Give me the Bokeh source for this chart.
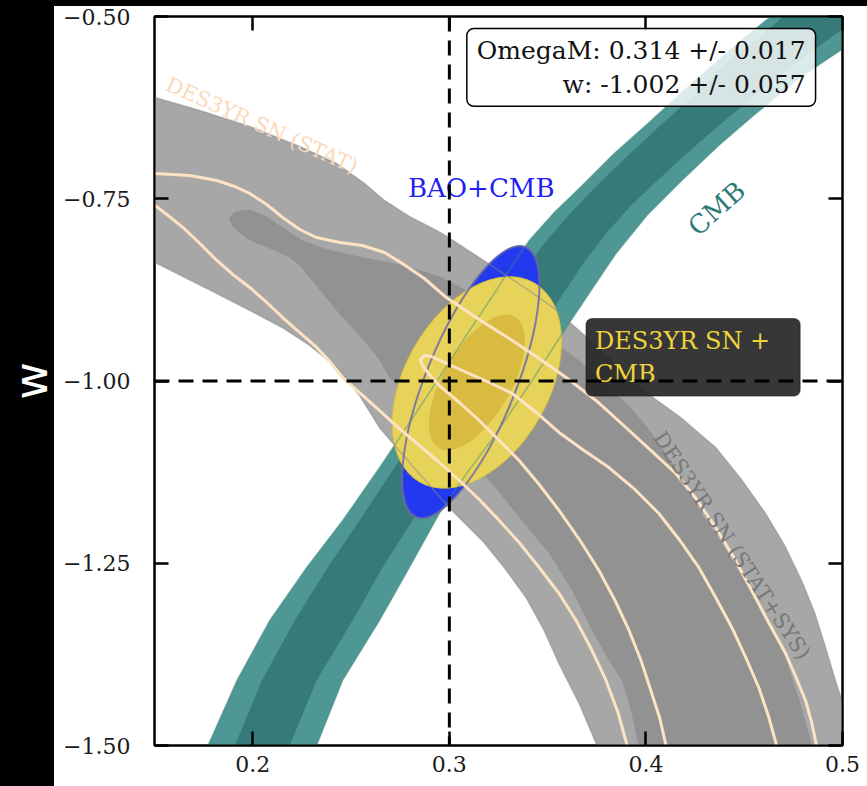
from bokeh.plotting import figure
from bokeh.models import FixedTicker, LinearAxis, Span, Label
from bokeh.embed import file_html
from bokeh.resources import INLINE

# ---------------- axes ----------------
X_TICKS = [0.2, 0.3, 0.4, 0.5]
X_TICK_LABELS = ["0.2", "0.3", "0.4", "0.5"]
Y_TICKS = [-1.5, -1.25, -1.0, -0.75, -0.5]
Y_TICK_LABELS = ["−1.50", "−1.25", "−1.00", "−0.75", "−0.50"]
Y_TITLE = "w"

# fiducial cosmology (dashed guides)
OM_FID = 0.3
W_FID = -1.0

# combined DES3YR SN + CMB result: [mean, sigma]
OM_FIT = [0.314, 0.017]
W_FIT = [-1.002, 0.057]

# ---------------- CMB band (95% outer, 68% inner) ----------------
cmb95_lo_om = [0.172, 0.1772, 0.1919, 0.2086, 0.2274, 0.2457, 0.2645, 0.2761, 0.2939, 0.3076, 0.3239, 0.3315, 0.3406,
               0.3533, 0.3675, 0.3838, 0.4015, 0.4193, 0.4355, 0.4497, 0.4609, 0.475]
cmb95_lo_w = [-1.53, -1.5, -1.4108, -1.3285, -1.2558, -1.1914, -1.1187, -1.072, -0.9993, -0.9417, -0.8759, -0.8429,
              -0.8073, -0.7689, -0.7318, -0.6879, -0.6454, -0.6015, -0.5631, -0.5302, -0.5055, -0.48]
cmb95_hi_om = [0.2275, 0.2325, 0.2457, 0.2645, 0.2797, 0.2949, 0.3091, 0.3239, 0.3421, 0.3558, 0.3721, 0.3848, 0.4005,
               0.4183, 0.4371, 0.4548, 0.4777, 0.499, 0.5081]
cmb95_hi_w = [-1.53, -1.5, -1.4108, -1.3285, -1.2558, -1.1818, -1.1255, -1.072, -0.9993, -0.9417, -0.8759, -0.8251,
              -0.773, -0.725, -0.677, -0.6358, -0.585, -0.5466, -0.5261]

cmb68_lo_om = [0.1865, 0.1909, 0.2046, 0.2213, 0.2381, 0.2543, 0.2721, 0.2838, 0.3010, 0.3152, 0.3315, 0.3396, 0.3482,
               0.3619, 0.3761, 0.3924, 0.4102, 0.4269, 0.4421, 0.4558, 0.4675, 0.4777]
cmb68_lo_w = [-1.53, -1.5, -1.4108, -1.3285, -1.2558, -1.1914, -1.1187, -1.072, -0.9993, -0.9417, -0.8759, -0.8429,
              -0.8114, -0.7689, -0.7291, -0.6866, -0.6427, -0.6015, -0.5604, -0.5329, -0.5055, -0.4808]
cmb68_hi_om = [0.2145, 0.2188, 0.2325, 0.2508, 0.266, 0.2812, 0.2985, 0.3112, 0.3294, 0.3431, 0.3589, 0.3685, 0.3797,
               0.3924, 0.4041, 0.4208, 0.4371, 0.4548, 0.4726, 0.499, 0.5081]
cmb68_hi_w = [-1.53, -1.5, -1.4108, -1.3285, -1.2558, -1.1914, -1.1187, -1.072, -0.9993, -0.9417, -0.8759, -0.8374,
              -0.7977, -0.7593, -0.7291, -0.6879, -0.6495, -0.6097, -0.5713, -0.5192, -0.4986]

# ---------------- DES3YR SN (STAT+SYS) band ----------------
sys95_hi_om = [0.1452, 0.1503, 0.1731, 0.1985, 0.2239, 0.2426, 0.2569, 0.267, 0.2797, 0.2964, 0.3152, 0.3406, 0.3533,
               0.366, 0.3838, 0.4015, 0.4183, 0.4355, 0.4482, 0.4609, 0.4706, 0.4792, 0.4858, 0.4914, 0.4964, 0.5005,
               0.5056, 0.512]
sys95_hi_w = [-0.6015, -0.6111, -0.6289, -0.6509, -0.6783, -0.7016, -0.7291, -0.7524, -0.7743, -0.7977, -0.8306,
              -0.8759, -0.9005, -0.9307, -0.9746, -1.0185, -1.0514, -1.0912, -1.1337, -1.1818, -1.2257, -1.2737,
              -1.3176, -1.3656, -1.4108, -1.4451, -1.4931, -1.53]
sys95_lo_om = [0.1452, 0.1503, 0.1655, 0.1817, 0.1985, 0.2152, 0.2289, 0.2426, 0.2543, 0.2645, 0.2797, 0.30, 0.3168,
               0.3279, 0.339, 0.3482, 0.3558, 0.366, 0.3746, 0.3787]
sys95_lo_w = [-0.8278, -0.8374, -0.858, -0.88, -0.9033, -0.927, -0.9513, -0.981, -1.0199, -1.064, -1.1118, -1.174,
              -1.219, -1.2558, -1.297, -1.3422, -1.388, -1.4424, -1.497, -1.5274]

sys68_hi_om = [0.1878, 0.1909, 0.1985, 0.2071, 0.2152, 0.2254, 0.2365, 0.2492, 0.2619, 0.2746, 0.2873, 0.2964, 0.3152,
               0.3355, 0.3508, 0.366, 0.3787, 0.3914, 0.4005, 0.4091, 0.4193, 0.4284, 0.4411, 0.4523, 0.4624, 0.4711,
               0.4782, 0.4843, 0.4868]
sys68_hi_w = [-0.7771, -0.7675, -0.7647, -0.7743, -0.7894, -0.8073, -0.8182, -0.8265, -0.8333, -0.8402, -0.8498,
              -0.858, -0.8855, -0.917, -0.9417, -0.9719, -1.0034, -1.0336, -1.0624, -1.0953, -1.1365, -1.1818,
              -1.2325, -1.2833, -1.3313, -1.3793, -1.4383, -1.4973, -1.5274]
sys68_lo_om = [0.1878, 0.1898, 0.1934, 0.1985, 0.2086, 0.2188, 0.2239, 0.2289, 0.2355, 0.2426, 0.2503, 0.2579, 0.2645,
               0.2695, 0.2797, 0.2949, 0.3076, 0.3218, 0.3355, 0.3508, 0.3624, 0.3726, 0.3812, 0.3878, 0.3924, 0.3959,
               0.3975]
sys68_lo_w = [-0.7771, -0.7881, -0.7977, -0.8073, -0.8182, -0.8306, -0.8416, -0.858, -0.88, -0.9033, -0.9266, -0.9486,
              -0.9719, -0.9952, -1.024, -1.0652, -1.1022, -1.1406, -1.1872, -1.2366, -1.2874, -1.3422, -1.3834,
              -1.4108, -1.452, -1.4973, -1.5274]

# ---------------- DES3YR SN (STAT) contour lines ----------------
stat95_hi_om = [0.140, 0.1503, 0.168, 0.1817, 0.1909, 0.1985, 0.2071, 0.2152, 0.2239, 0.2325, 0.2442, 0.2558, 0.267,
                0.2761, 0.2873, 0.2985, 0.3152, 0.332, 0.3457, 0.3594, 0.3746, 0.3898, 0.4025, 0.4152, 0.4254, 0.4355,
                0.4447, 0.4538, 0.4624, 0.4711, 0.4766, 0.4812, 0.4843, 0.4868, 0.488]
stat95_hi_w = [-0.712, -0.7154, -0.7181, -0.725, -0.7332, -0.7428, -0.7579, -0.7757, -0.7922, -0.8032, -0.81, -0.8141,
               -0.8237, -0.8388, -0.8594, -0.8855, -0.9156, -0.9444, -0.9691, -0.9952, -1.0267, -1.0638, -1.0953,
               -1.1269, -1.1612, -1.201, -1.2421, -1.2874, -1.3313, -1.3738, -1.4081, -1.4383, -1.4684, -1.5, -1.53]
stat95_lo_om = [0.140, 0.1503, 0.1569, 0.1645, 0.1731, 0.1817, 0.1898, 0.1985, 0.2071, 0.2152, 0.2239, 0.2325, 0.2391,
                0.2457, 0.2543, 0.2645, 0.2746, 0.2848, 0.2949, 0.3051, 0.3152, 0.3254, 0.3355, 0.3457, 0.3558, 0.3645,
                0.3726, 0.3797, 0.3858, 0.3904, 0.391]
stat95_lo_w = [-0.745, -0.7593, -0.773, -0.7894, -0.8114, -0.8347, -0.8539, -0.8717, -0.8923, -0.9129, -0.9335, -0.954,
               -0.9733, -0.9952, -1.0158, -1.0405, -1.0652, -1.0885, -1.1118, -1.1365, -1.1626, -1.1914, -1.2215,
               -1.2558, -1.2915, -1.3285, -1.3697, -1.4108, -1.4547, -1.5, -1.53]
stat68_om = [0.4105, 0.4102, 0.4071, 0.4025, 0.3975, 0.3914, 0.3843, 0.3761, 0.3665, 0.3558, 0.3457, 0.3355, 0.3254,
             0.3152, 0.3051, 0.2949, 0.2898, 0.2863, 0.2853, 0.2873, 0.2909, 0.2975, 0.3066, 0.3193, 0.332, 0.3442,
             0.3558, 0.3685, 0.3812, 0.3939, 0.4066, 0.4173, 0.4269, 0.4355, 0.4437, 0.4508, 0.4574, 0.4624, 0.4665,
             0.4675]
stat68_w = [-1.53, -1.5, -1.463, -1.4246, -1.3834, -1.3422, -1.3011, -1.26, -1.2188, -1.1776, -1.142, -1.1091, -1.0816,
            -1.0542, -1.0295, -1.0062, -0.9911, -0.9787, -0.9705, -0.965, -0.9664, -0.9746, -0.9856, -1.0007, -1.0171,
            -1.0432, -1.0706, -1.0953, -1.1187, -1.1475, -1.1818, -1.2188, -1.2558, -1.297, -1.3381, -1.3793, -1.4204,
            -1.4602, -1.5, -1.53]

# ---------------- BAO+CMB and SN+CMB ellipses ----------------
bao_center = [0.3109, -1.0014]
bao_size = [0.1482, 0.1235]      # width (Omega_M units), height (w units)
bao_tilt = 68                    # degrees
sncmb95_size = [0.1168, 0.1975]
sncmb68_size = [0.0772, 0.0933]
sncmb_tilt = 60

# ---------------- colours ----------------
GRAY95, GRAY68 = "#a7a7a7", "#929292"
TEAL95, TEAL68 = "#4e9794", "#367b7a"
BLUE = "#2339f0"
YEL95, YEL68 = "#e8d35a", "#d9bb41"
CREAM = "#fde3c4"
SERIF = "DejaVu Serif"

p = figure(width=867, height=786, x_range=(0.15, 0.5), y_range=(-1.5, -0.5),
           output_backend="svg", toolbar_location=None,
           min_border_left=154, min_border_right=25, min_border_top=16, min_border_bottom=41,
           background_fill_color="white", border_fill_color=None,
           outline_line_color="black", outline_line_width=2,
           styles={"background": "linear-gradient(to right, #000 0px, #000 54px, rgba(0,0,0,0) 54px), "
                                 "linear-gradient(to bottom, #000 0px, #000 6px, #fff 6px)"})
p.grid.visible = False


def style_axis(ax, ticks, labels):
    ax.ticker = FixedTicker(ticks=ticks)
    ax.major_label_overrides = {t: s for t, s in zip(ticks, labels)}
    ax.major_tick_in = 14
    ax.major_tick_out = 0
    ax.minor_tick_line_color = None
    ax.major_tick_line_width = 2.5
    ax.major_tick_line_color = "black"
    ax.axis_line_color = "black"
    ax.axis_line_width = 2
    ax.major_label_text_font = SERIF
    ax.major_label_text_font_size = "22px"
    ax.major_label_text_color = "#1a1a1a"


style_axis(p.xaxis[0], X_TICKS, X_TICK_LABELS)
p.xaxis[0].major_label_standoff = 10
style_axis(p.yaxis[0], Y_TICKS, Y_TICK_LABELS)
p.yaxis[0].major_label_standoff = 24
# y title sits in the dark margin
p.yaxis[0].axis_label = Y_TITLE
p.yaxis[0].axis_label_text_color = "white"
p.yaxis[0].axis_label_text_font = "DejaVu Sans"
p.yaxis[0].axis_label_text_font_style = "normal"
p.yaxis[0].axis_label_text_font_size = "46px"
p.yaxis[0].axis_label_standoff = 2

top_axis = LinearAxis()
style_axis(top_axis, X_TICKS, [""] * len(X_TICKS))
top_axis.major_label_standoff = 0
p.add_layout(top_axis, "above")
right_axis = LinearAxis()
style_axis(right_axis, Y_TICKS, [""] * len(Y_TICKS))
right_axis.major_label_standoff = 0
p.add_layout(right_axis, "right")

# SN (stat+sys) filled band
p.patch(sys95_hi_om + sys95_lo_om[::-1], sys95_hi_w + sys95_lo_w[::-1], fill_color=GRAY95, line_color=None)
p.patch(sys68_hi_om + sys68_lo_om[::-1], sys68_hi_w + sys68_lo_w[::-1], fill_color=GRAY68, line_color=None)

# CMB band
p.patch(cmb95_lo_om + cmb95_hi_om[::-1], cmb95_lo_w + cmb95_hi_w[::-1], fill_color=TEAL95, line_color=None)
p.patch(cmb68_lo_om + cmb68_hi_om[::-1], cmb68_lo_w + cmb68_hi_w[::-1], fill_color=TEAL68, line_color=None)

# BAO+CMB
p.ellipse(x=bao_center[0], y=bao_center[1], width=bao_size[0], height=bao_size[1],
          angle=bao_tilt, angle_units="deg", fill_color=BLUE, line_color="#2a36c8", line_width=1)

# SN+CMB
p.ellipse(x=OM_FIT[0], y=W_FIT[0], width=sncmb95_size[0], height=sncmb95_size[1],
          angle=sncmb_tilt, angle_units="deg", fill_color=YEL95, line_color="#d6c13c", line_width=1)
p.ellipse(x=OM_FIT[0], y=W_FIT[0], width=sncmb68_size[0], height=sncmb68_size[1],
          angle=sncmb_tilt, angle_units="deg", fill_color=YEL68, line_color=None)

# contour edges showing through the combined constraint
for om, w in [(cmb95_lo_om, cmb95_lo_w), (cmb95_hi_om, cmb95_hi_w)]:
    p.line(om, w, line_color="#3f8c7a", line_alpha=0.45, line_width=1.5)
for om, w in [(sys95_hi_om, sys95_hi_w), (sys95_lo_om, sys95_lo_w)]:
    p.line(om, w, line_color="#8a8a8a", line_alpha=0.5, line_width=1.5)
p.ellipse(x=bao_center[0], y=bao_center[1], width=bao_size[0], height=bao_size[1],
          angle=bao_tilt, angle_units="deg", fill_color=None, line_color="#6d6aa8",
          line_alpha=0.85, line_width=2)

# SN (stat only) contour lines
for om, w in [(stat95_hi_om, stat95_hi_w), (stat95_lo_om, stat95_lo_w), (stat68_om, stat68_w)]:
    p.line(om, w, line_color=CREAM, line_width=3, line_join="round")

# contour labels
p.add_layout(Label(x=0.2046, y=-0.6495, text="DES3YR SN (STAT)", angle=-24, angle_units="deg",
                   text_align="center", text_baseline="middle", text_color="#fbd9bb",
                   text_font=SERIF, text_font_size="21px"))
p.add_layout(Label(x=0.3162, y=-0.7346, text="BAO+CMB", text_align="center", text_baseline="middle",
                   text_color="#1f1ff5", text_font=SERIF, text_font_size="26px"))
p.add_layout(Label(x=0.436, y=-0.7634, text="CMB", angle=42, angle_units="deg",
                   text_align="center", text_baseline="middle", text_color="#2e7a77",
                   text_font=SERIF, text_font_size="26px"))
p.add_layout(Label(x=0.4437, y=-1.2257, text="DES3YR SN (STAT+SYS)", angle=-56.7, angle_units="deg",
                   text_align="center", text_baseline="middle", text_color="#777777",
                   text_font=SERIF, text_font_size="21px"))
p.add_layout(Label(x=0.3695, y=-0.9143, text="DES3YR SN +\nCMB", text_align="left", text_baseline="top",
                   text_color="#f0d33c", text_font=SERIF, text_font_size="24px",
                   background_fill_color="#262626", background_fill_alpha=0.92,
                   border_line_color="#111111", border_line_alpha=0.5,
                   padding=dict(left=9, right=30, top=8, bottom=8), border_radius=6))

# fiducial guides
p.add_layout(Span(location=OM_FID, dimension="height", line_color="black", line_width=3, line_dash="15 9"))
p.add_layout(Span(location=W_FID, dimension="width", line_color="black", line_width=3, line_dash="15 9"))

# summary box
summary = (f"OmegaM: {OM_FIT[0]:.3f} +/- {OM_FIT[1]:.3f}\n"
           f"w: {W_FIT[0]:.3f} +/- {W_FIT[1]:.3f}")
p.add_layout(Label(x=0.4863, y=-0.5165, text=summary, text_align="right", text_baseline="top",
                   text_color="#111111", text_font=SERIF, text_font_size="25px",
                   background_fill_color="white", background_fill_alpha=0.8,
                   border_line_color="black", border_line_width=1.5,
                   padding=dict(left=10, right=10, top=7, bottom=7), border_radius=7))

open("out.html", "w").write(file_html(p, INLINE))
